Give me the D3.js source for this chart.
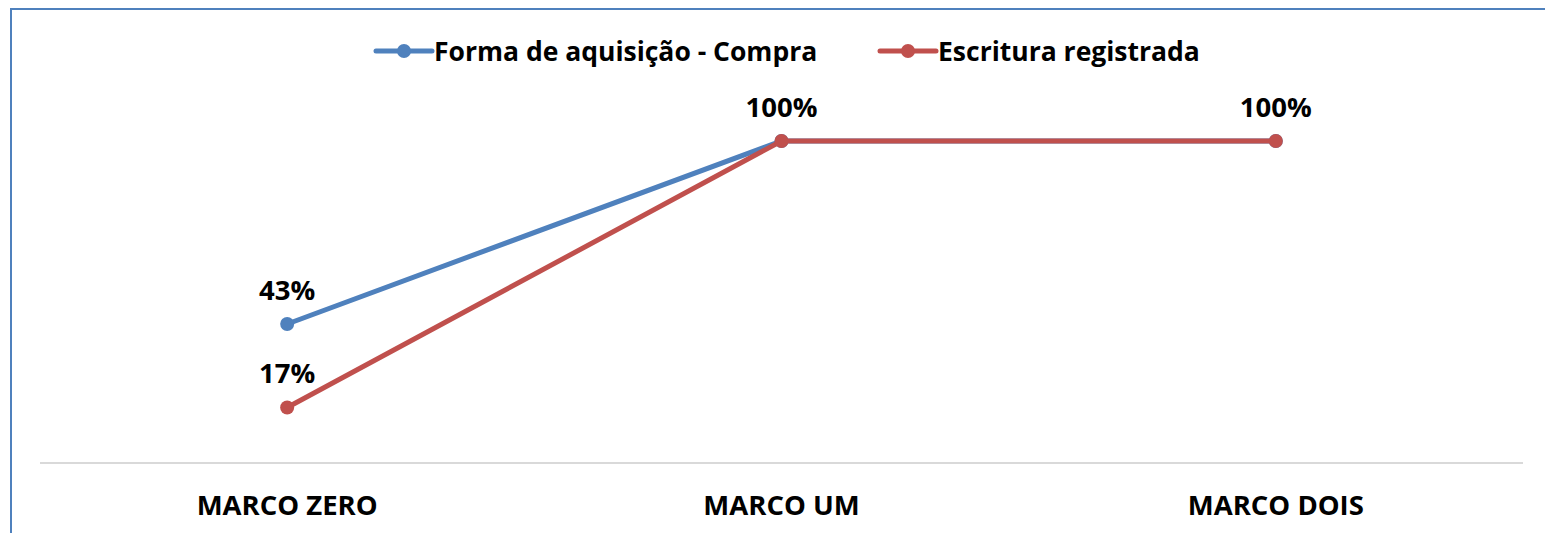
<!DOCTYPE html>
<html>
<head>
<meta charset="utf-8">
<script src="https://cdn.jsdelivr.net/npm/d3@7"></script>
<style>
  body { margin: 0; background: #fff; }
  text { font-family: "Open Sans", sans-serif; font-weight: bold; fill: #000; }
</style>
</head>
<body>
<svg width="1545" height="533"></svg>
<script>
var categories = ["MARCO ZERO", "MARCO UM", "MARCO DOIS"];
var seriesNames = ["Forma de aquisição - Compra", "Escritura registrada"];
var compra = [43, 100, 100];
var escritura = [17, 100, 100];
var colors = ["#4F81BD", "#C0504D"];

var svg = d3.select("svg");

// chart border (only top and left visible)
svg.append("path")
    .attr("d", "M11,533 L11,9 L1545,9")
    .attr("fill", "none")
    .attr("stroke", "#4F81BD")
    .attr("stroke-width", 2);

var x = d3.scaleBand().domain(categories).range([40, 1523]);
var y = d3.scaleLinear().domain([0, 100]).range([462, 141]);

// category axis
svg.append("line")
    .attr("x1", 40).attr("x2", 1523)
    .attr("y1", 463).attr("y2", 463)
    .attr("stroke", "#D9D9D9")
    .attr("stroke-width", 2);

svg.selectAll(".cat")
    .data(categories)
    .enter().append("text")
    .attr("class", "cat")
    .attr("x", function(d) { return x(d) + x.bandwidth() / 2; })
    .attr("y", 515)
    .attr("text-anchor", "middle")
    .attr("font-size", "27.5px")
    .text(function(d) { return d; });

var line = d3.line()
    .x(function(d, i) { return x(categories[i]) + x.bandwidth() / 2; })
    .y(function(d) { return y(d); });

var allSeries = [compra, escritura];
var used = {};

allSeries.forEach(function(vals, s) {
    svg.append("path")
        .datum(vals)
        .attr("d", line)
        .attr("fill", "none")
        .attr("stroke", colors[s])
        .attr("stroke-width", 5);

    svg.selectAll(".pt" + s)
        .data(vals)
        .enter().append("circle")
        .attr("cx", function(d, i) { return x(categories[i]) + x.bandwidth() / 2; })
        .attr("cy", function(d) { return y(d); })
        .attr("r", 7)
        .attr("fill", colors[s]);
});

// data labels (skip duplicates at the same spot)
allSeries.forEach(function(vals, s) {
    vals.forEach(function(d, i) {
        var key = i + "_" + d;
        if (used[key]) return;
        used[key] = true;
        svg.append("text")
            .attr("x", x(categories[i]) + x.bandwidth() / 2)
            .attr("y", y(d) - 24)
            .attr("text-anchor", "middle")
            .attr("font-size", "27.5px")
            .text(d + "%");
    });
});

// legend
var legendX = [376, 880];
seriesNames.forEach(function(name, s) {
    var g = svg.append("g").attr("transform", "translate(" + legendX[s] + ",51)");
    g.append("line")
        .attr("x1", 0).attr("x2", 56)
        .attr("stroke", colors[s])
        .attr("stroke-width", 5)
        .attr("stroke-linecap", "round");
    g.append("circle").attr("cx", 28).attr("r", 7).attr("fill", colors[s]);
    g.append("text")
        .attr("x", 58)
        .attr("y", 10)
        .attr("font-size", "26.5px")
        .text(name);
});
</script>
</body>
</html>
